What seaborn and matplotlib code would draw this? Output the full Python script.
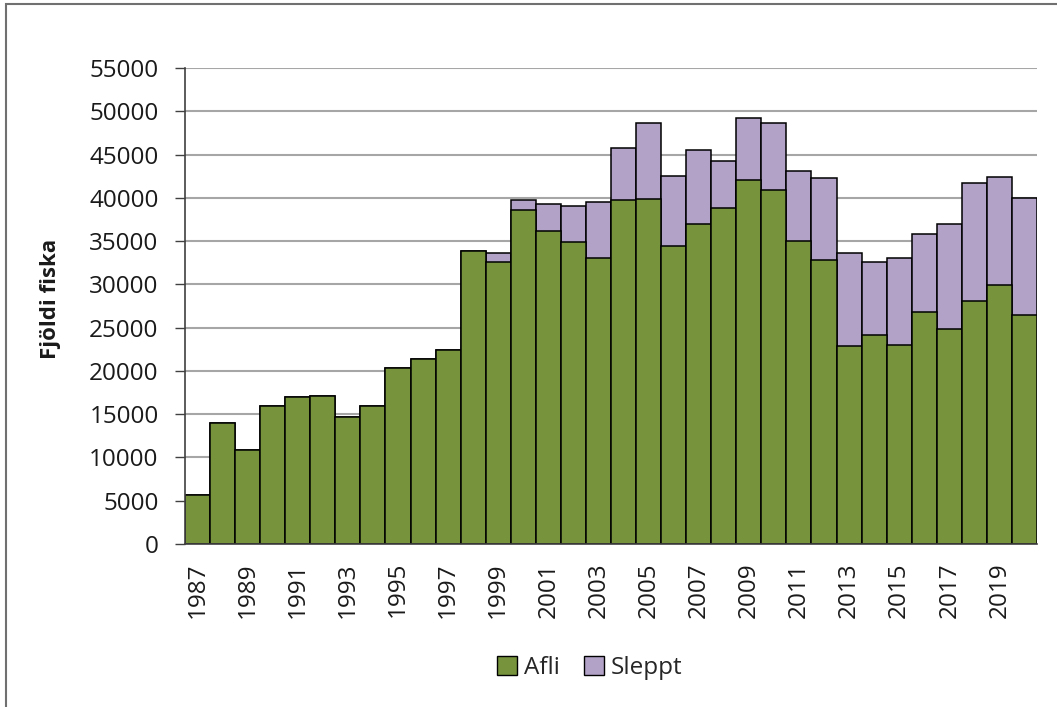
import matplotlib
matplotlib.use('Agg')
import matplotlib.pyplot as plt
import matplotlib.patches as mpatches
import pandas as pd
import seaborn as sns

# Data
years = list(range(1987, 2021))
afli = [5650, 13950, 10850, 16000, 16950, 17100, 14650, 16000, 20300, 21400,
        22400, 33900, 32600, 38600, 36150, 34850, 33100, 39700, 39900, 34400,
        37000, 38800, 42100, 40850, 35000, 32800, 22900, 24100, 23000, 26800,
        24900, 28100, 29950, 26500]
sleppt = [0, 0, 0, 0, 0, 0, 0, 0, 0, 0,
          0, 0, 1000, 1200, 3100, 4200, 6400, 6000, 8800, 8100,
          8550, 5500, 7100, 7850, 8050, 9450, 10700, 8500, 10050, 9000,
          12100, 13650, 12450, 13500]

green = '#77933C'
purple = '#B3A2C7'

df = pd.DataFrame({'year': [str(y) for y in years], 'Afli': afli, 'Sleppt': sleppt})
df['total'] = df['Afli'] + df['Sleppt']

sns.set_style('white')
plt.rcParams['font.family'] = ['Open Sans', 'DejaVu Sans']

fig = plt.figure(figsize=(10.57, 7.07), dpi=100)
ax = fig.add_axes([185 / 1057, 1 - 544 / 707, (1037 - 185) / 1057, 476 / 707])

# stacked: total first (purple), then the catch on top of it (green)
sns.barplot(data=df, x='year', y='total', color=purple, saturation=1, width=1,
            edgecolor='black', linewidth=1.1, ax=ax)
sns.barplot(data=df, x='year', y='Afli', color=green, saturation=1, width=1,
            edgecolor='black', linewidth=1.1, ax=ax)

ax.set_xlim(-0.5, len(years) - 0.5)
ax.set_ylim(0, 55000)
ax.set_yticks(range(0, 55001, 5000))
ax.yaxis.grid(True, color='#A6A6A6', linewidth=1.5)
ax.set_axisbelow(True)

# year labels every other bar, tick marks on bar boundaries
ax.set_xticks(range(0, len(years), 2))
ax.set_xticklabels([str(y) for y in years[::2]], rotation=90)
ax.set_xticks([i - 0.5 for i in range(len(years) + 1)], minor=True)
ax.tick_params(axis='x', which='major', length=0, pad=13, labelsize=17.5, labelcolor='#1a1a1a')
ax.tick_params(axis='x', which='minor', length=7, width=1, color='#404040', direction='out')
ax.tick_params(axis='y', length=7, width=1, color='#404040', direction='out', pad=12,
               labelsize=17.5, labelcolor='#1a1a1a', left=True)

for s in ['top', 'right']:
    ax.spines[s].set_visible(False)
for s in ['left', 'bottom']:
    ax.spines[s].set_color('#404040')
    ax.spines[s].set_linewidth(1.2)

ax.set_xlabel('')
ax.set_ylabel('Fjöldi fiska', fontsize=16, fontweight='bold', color='#1a1a1a')
ax.yaxis.set_label_coords(-0.146, 0.515)

handles = [mpatches.Patch(facecolor=green, edgecolor='black', label='Afli'),
           mpatches.Patch(facecolor=purple, edgecolor='black', label='Sleppt')]
fig.legend(handles=handles, loc='center', bbox_to_anchor=(590 / 1057, 1 - 668 / 707),
           ncol=2, frameon=False, fontsize=17.5, handlelength=0.8, handleheight=0.8,
           handletextpad=0.3, columnspacing=1.0)

# thin frame round the chart area
fig.patches.append(mpatches.Rectangle((6 / 1057, -0.05), 1.1, 1.05 - 4 / 707,
                                      transform=fig.transFigure, fill=False,
                                      edgecolor='#707070', linewidth=1.5))

fig.savefig('out.png', dpi=100)
